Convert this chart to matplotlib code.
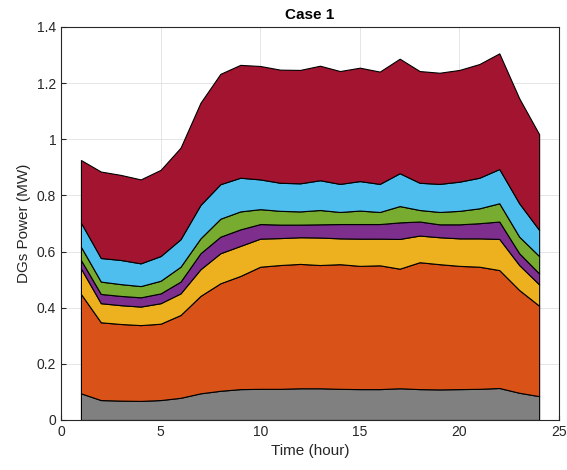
import numpy as np
import matplotlib.pyplot as plt
from matplotlib.ticker import FuncFormatter

plt.rcParams['font.family'] = ['Liberation Sans', 'DejaVu Sans']

hours = np.arange(1, 25)

# power of each DG (MW), bottom to top
dg1 = [0.095, 0.071, 0.069, 0.068, 0.071, 0.079, 0.095, 0.104, 0.110, 0.111, 0.111, 0.113,
       0.113, 0.111, 0.110, 0.110, 0.113, 0.110, 0.109, 0.110, 0.111, 0.114, 0.097, 0.085]
dg2 = [0.354, 0.277, 0.273, 0.270, 0.272, 0.295, 0.347, 0.383, 0.403, 0.435, 0.441, 0.443,
       0.439, 0.444, 0.439, 0.441, 0.426, 0.452, 0.446, 0.439, 0.435, 0.420, 0.366, 0.322]
dg3 = [0.091, 0.068, 0.067, 0.066, 0.073, 0.077, 0.095, 0.107, 0.107, 0.100, 0.096, 0.095,
       0.098, 0.092, 0.097, 0.095, 0.106, 0.095, 0.096, 0.098, 0.101, 0.111, 0.089, 0.076]
dg4 = [0.030, 0.033, 0.033, 0.033, 0.035, 0.042, 0.057, 0.059, 0.059, 0.052, 0.048, 0.045,
       0.047, 0.051, 0.052, 0.052, 0.059, 0.050, 0.046, 0.050, 0.054, 0.062, 0.042, 0.039]
dg5 = [0.047, 0.044, 0.042, 0.040, 0.045, 0.053, 0.053, 0.064, 0.064, 0.053, 0.049, 0.047,
       0.051, 0.043, 0.048, 0.043, 0.058, 0.041, 0.044, 0.048, 0.053, 0.065, 0.059, 0.062]
dg6 = [0.086, 0.084, 0.086, 0.081, 0.088, 0.098, 0.119, 0.123, 0.120, 0.106, 0.100, 0.100,
       0.106, 0.100, 0.105, 0.100, 0.117, 0.097, 0.100, 0.104, 0.109, 0.122, 0.119, 0.093]
dg7 = [0.223, 0.308, 0.303, 0.299, 0.307, 0.326, 0.364, 0.393, 0.402, 0.404, 0.403, 0.404,
       0.408, 0.402, 0.404, 0.400, 0.408, 0.398, 0.396, 0.398, 0.405, 0.412, 0.374, 0.341]

colors = ['#808080', '#D95319', '#EDB120', '#7E2F8E', '#77AC30', '#4DBEEE', '#A2142F']

fig = plt.figure(figsize=(5.67, 4.70), dpi=100)
ax = fig.add_axes([0.1076, 0.1064, 0.8784, 0.8362])

ax.stackplot(hours, dg1, dg2, dg3, dg4, dg5, dg6, dg7, colors=colors,
             edgecolor='black', linewidth=0.8, zorder=2)

ax.set_xlim(0, 25)
ax.set_ylim(0, 1.4)
ax.set_xticks([0, 5, 10, 15, 20, 25])
ax.set_yticks(np.arange(0, 1.41, 0.2))
ax.yaxis.set_major_formatter(FuncFormatter(lambda v, p: '%g' % round(v, 1)))
ax.grid(True, color='#e0e0e0', linewidth=0.6, zorder=0)
ax.set_axisbelow(True)
ax.tick_params(direction='in', labelsize=10, length=3.5, top=False, right=False,
               colors='#262626')
for s in ax.spines.values():
    s.set_linewidth(0.8)
    s.set_color('#262626')

ax.set_xlabel('Time (hour)', fontsize=11, color='#262626')
ax.set_ylabel('DGs Power (MW)', fontsize=11, color='#262626')
ax.set_title('Case 1', fontsize=11, fontweight='bold')

fig.savefig('out.png', dpi=100)
